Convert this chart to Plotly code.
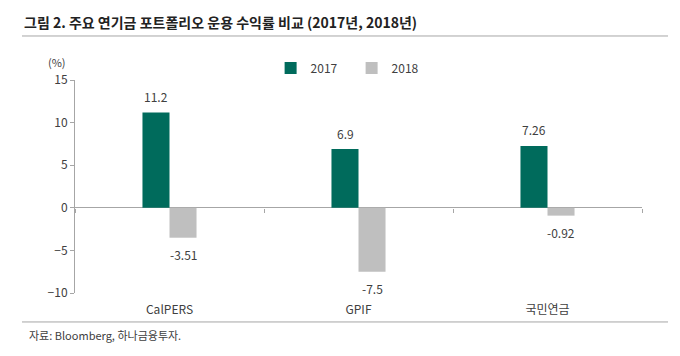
import plotly.graph_objects as go

categories = ["CalPERS", "GPIF", "국민연금"]
series_names = ["2017", "2018"]
values_2017 = [11.2, 6.9, 7.26]
values_2018 = [-3.51, -7.5, -0.92]
label_2017 = ["11.2", "6.9", "7.26"]
label_2018 = ["-3.51", "-7.5", "-0.92"]
y_ticks = [-10, -5, 0, 5, 10, 15]
y_range = [-10, 15]

FONT = "Noto Sans CJK KR, Noto Sans, sans-serif"
TXT = "#404040"
AX = "#A6A6A6"
colors = ["#006B5C", "#BFBFBF"]

fig = go.Figure()
for name, vals, col in zip(series_names, [values_2017, values_2018], colors):
    fig.add_trace(go.Bar(x=categories, y=vals, name=name, marker_color=col,
                         marker_line_width=0))

# invisible helper trace so the category axis along the zero line draws its boundary ticks
fig.add_trace(go.Scatter(x=categories, y=[None] * len(categories), xaxis="x2",
                         mode="markers", showlegend=False, hoverinfo="skip"))

# value labels
for vals, labs, shift in [(values_2017, label_2017, -13.5), (values_2018, label_2018, 13.5)]:
    for c, v, t in zip(categories, vals, labs):
        fig.add_annotation(x=c, y=v, text=t, showarrow=False, xshift=shift,
                           yshift=16 if v >= 0 else -17,
                           font=dict(family=FONT, size=12, color=TXT))

zero_pos = (0 - y_range[0]) / (y_range[1] - y_range[0])

fig.update_layout(
    width=680, height=356,
    margin=dict(l=75, r=38, t=80, b=63, autoexpand=False),
    paper_bgcolor="white", plot_bgcolor="white",
    barmode="group", bargap=0.714, bargroupgap=0,
    font=dict(family=FONT, size=12, color=TXT),
    showlegend=True,
    legend=dict(orientation="h", x=0.345, y=1.056, xanchor="left", yanchor="middle",
                font=dict(family=FONT, size=12, color=TXT), itemwidth=30,
                entrywidth=36, tracegroupgap=0, bgcolor="rgba(0,0,0,0)"),
    xaxis=dict(showline=False, showgrid=False, ticks="outside", ticklen=6,
               tickcolor="rgba(0,0,0,0)", tickfont=dict(size=12, color=TXT),
               categoryorder="array", categoryarray=categories),
    xaxis2=dict(type="category", overlaying="x", anchor="free", position=zero_pos,
                side="bottom", range=[-0.5, len(categories) - 0.5],
                categoryorder="array", categoryarray=categories,
                tickmode="array", tickvals=categories, tickson="boundaries",
                ticks="outside", ticklen=4, tickcolor=AX, showticklabels=False,
                showline=False, showgrid=False, zeroline=False, fixedrange=True),
    yaxis=dict(range=y_range, tickvals=y_ticks, showgrid=False, showline=True,
               linecolor=AX, linewidth=1, ticks="outside", ticklen=4,
               tickcolor=AX, zeroline=True, zerolinecolor=AX,
               zerolinewidth=1, tickfont=dict(size=12, color=TXT)),
)

# title, unit, source, rules
fig.add_annotation(xref="paper", yref="paper", x=-0.0935, y=1.272, xanchor="left",
                   yanchor="middle", showarrow=False,
                   text="<b>그림 2. 주요 연기금 포트폴리오 운용 수익률 비교 (2017년, 2018년)</b>",
                   font=dict(family=FONT, size=14, color="#222222"))
fig.add_annotation(xref="paper", yref="paper", x=-0.0317, y=1.0845, xanchor="center",
                   yanchor="middle", showarrow=False, text="(%)",
                   font=dict(family=FONT, size=11, color=TXT))
fig.add_annotation(xref="paper", yref="paper", x=-0.085, y=-0.197, xanchor="left",
                   yanchor="middle", showarrow=False, text="자료: Bloomberg, 하나금융투자.",
                   font=dict(family=FONT, size=11, color=TXT))
for yy in [1.2066, -0.136]:
    fig.add_shape(type="line", xref="paper", yref="paper", x0=-0.0935, x1=1.0459,
                  y0=yy, y1=yy, line=dict(color=AX, width=1))

fig.write_html("out.html", config={"displayModeBar": False},
               post_script="document.body.style.margin='0';document.body.style.overflow='hidden';")
